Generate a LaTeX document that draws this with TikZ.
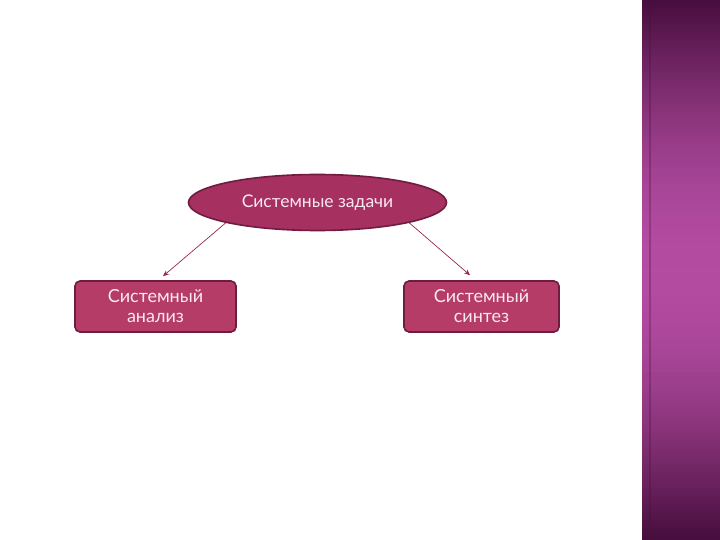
\documentclass[tikz,border=0pt]{standalone}
\usepackage{fontspec}
\setmainfont{Lato}
\usetikzlibrary{arrows.meta, shapes.geometric}
\definecolor{themewine}{RGB}{166, 48, 95}
\definecolor{themerose}{RGB}{180, 60, 102}
\definecolor{themedark}{RGB}{112, 28, 64}
\definecolor{themetext}{RGB}{250, 232, 240}
\definecolor{themeline}{RGB}{150, 40, 80}
\definecolor{stripdark}{RGB}{72, 14, 62}
\definecolor{striplight}{RGB}{180, 76, 162}

\begin{document}
\begin{tikzpicture}[x=1pt, y=-1pt,
    task/.style={ellipse, draw=themedark, line width=1.6pt, fill=themewine, text=themetext,
        minimum width=258pt, minimum height=56pt, inner sep=0pt, font=\fontsize{17.5}{20}\selectfont},
    box/.style={rectangle, rounded corners=5pt, draw=themedark, line width=1.6pt, fill=themerose,
        text=themetext, minimum height=51pt, align=center, inner sep=0pt,
        font=\fontsize{18}{20}\selectfont},
    link/.style={-{Stealth[length=6pt, width=5pt]}, line width=0.7pt, themeline}]
    \useasboundingbox (0,0) rectangle (720,540);
    \fill[white] (0,0) rectangle (720,540);
    % side strip
    \foreach \i in {0,...,134} {
        \pgfmathtruncatemacro{\p}{max(0, 100*sin(\i/134*180))}
        \fill[striplight!\p!stripdark] (642,\i*4) rectangle (720,\i*4+4.5);
    }
    \draw[line width=2pt, stripdark, opacity=0.3] (650,0) -- (650,540);

    \node[task] (tasks) at (317.5,202.5) {Системные задачи};
    \node[box, minimum width=161pt] (analysis) at (155.5,306.5) {Системный\\анализ};
    \node[box, minimum width=155pt] (synthesis) at (481.5,306.5) {Системный\\синтез};

    \draw[link] (tasks.south west) -- ([xshift=7.5pt, yshift=4pt]analysis.north);
    \draw[link] (tasks.south east) -- ([xshift=-11.5pt, yshift=5pt]synthesis.north);
\end{tikzpicture}
\end{document}
